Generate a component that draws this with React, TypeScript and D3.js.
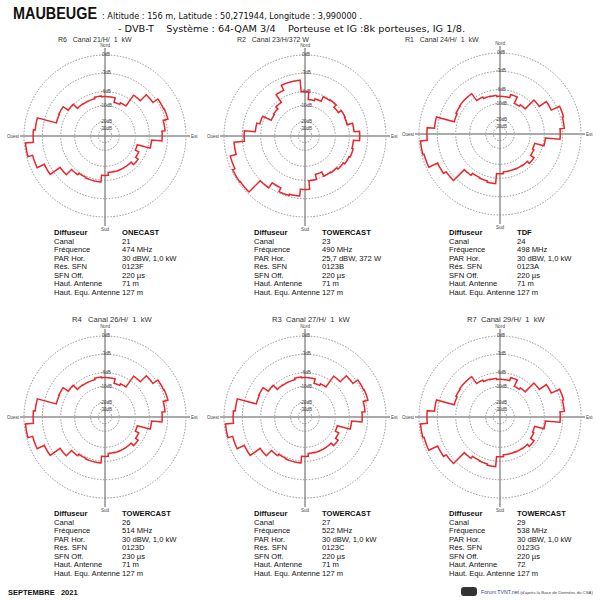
import React from 'react';
import * as d3 from 'd3';

// one entry per transmitter, in drawing order (top row then bottom row)
const emetteurs = ['R6', 'R2', 'R1', 'R4', 'R3', 'R7'];
const titres = ['R6   Canal 21/H/  1  kW', 'R2   Canal 23/H/372 W', 'R1   Canal 24/H/  1  kW',
  'R4   Canal 26/H/  1  kW', 'R3  Canal 27/H/  1  kW', 'R7  Canal 29/H/  1  kW'];
const diffuseurs = ['ONECAST', 'TOWERCAST', 'TDF', 'TOWERCAST', 'TOWERCAST', 'TOWERCAST'];
const canaux = ['21', '23', '24', '26', '27', '29'];
const frequences = ['474 MHz', '490 MHz', '498 MHz', '514 MHz', '522 MHz', '538 MHz'];
const parHor = ['30 dBW, 1,0 kW', '25,7 dBW, 372 W', '30 dBW, 1,0 kW', '30 dBW, 1,0 kW', '30 dBW, 1,0 kW', '30 dBW, 1,0 kW'];
const resSfn = ['0123F', '0123B', '0123A', '0123D', '0123C', '0123G'];
const sfnOff = ['220 µs', '220 µs', '220 µs', '230 µs', '220 µs', '220 µs'];
const hautAntenne = ['71 m', '71 m', '71 m', '71 m', '71 m', '72'];
const hautEqu = ['127 m', '127 m', '127 m', '127 m', '127 m', '127 m'];

const ringLevels = [0, -3, -6, -10, -20, -30];

// attenuation (dB) per 10° sector, starting at Nord, clockwise
const patternR6 = [-7.4, -7.4, -8.7, -8.2, -5.1, -3.7, -2.7, -2.6, -3.4, -3.9, -5.6, -9.1, -8.0, -7.1, -8.1, -8.1, -8.1, -8.2,
  -7.4, -5.7, -5.7, -5.8, -5.5, -4.3, -2.3, -1.0, -0.2, -1.5, -1.8, -5.0, -4.9, -5.9, -7.5, -7.6, -7.6, -7.2];
const patternR2 = [-6.0, -8.2, -7.7, -6.3, -6.1, -7.0, -6.0, -6.2, -5.2, -4.3, -5.3, -5.1, -5.3, -5.6, -5.9, -6.0, -7.3, -5.9,
  -4.5, -3.4, -3.2, -3.9, -2.9, -0.3, -0.2, -0.6, -1.6, -3.3, -5.1, -5.6, -8.0, -7.7, -6.9, -5.0, -4.1, -4.1];
const patternR1 = [-7.9, -7.9, -7.0, -9.0, -8.5, -5.4, -4.0, -2.5, -2.7, -3.4, -5.8, -8.4, -8.0, -6.8, -7.6, -7.7, -7.8, -7.8,
  -7.3, -5.1, -5.3, -5.4, -5.0, -2.5, -2.0, -0.4, -0.2, -1.3, -2.5, -5.5, -5.3, -5.2, -5.2, -7.0, -7.5, -7.6];
const patternR4 = [-7.4, -7.4, -8.7, -8.2, -5.1, -3.7, -2.7, -2.6, -3.4, -3.9, -5.6, -9.1, -8.0, -7.1, -8.1, -8.1, -8.1, -8.2,
  -7.4, -5.7, -5.7, -5.8, -5.5, -4.3, -2.3, -1.0, -0.2, -1.5, -1.8, -5.0, -4.9, -5.9, -7.5, -7.6, -7.6, -7.2];
const patternR3 = [-7.4, -7.4, -8.7, -8.2, -5.1, -3.7, -2.7, -2.6, -3.4, -3.9, -5.6, -9.1, -8.0, -7.1, -8.1, -8.1, -8.1, -8.2,
  -7.4, -5.7, -5.7, -5.8, -5.5, -4.3, -2.3, -1.0, -0.2, -1.5, -1.8, -5.0, -4.9, -5.9, -7.5, -7.6, -7.6, -7.2];
const patternR7 = [-7.9, -7.9, -7.0, -9.0, -8.5, -5.4, -4.0, -2.5, -2.7, -3.4, -5.8, -8.4, -8.0, -6.8, -7.6, -7.7, -7.8, -7.8,
  -7.3, -5.1, -5.3, -5.4, -5.0, -2.5, -2.0, -0.4, -0.2, -1.3, -2.5, -5.5, -5.3, -5.2, -5.2, -7.0, -7.5, -7.6];
const patterns = [patternR6, patternR2, patternR1, patternR4, patternR3, patternR7];

const centres = [[105, 136], [305, 136], [500, 134], [105, 417], [305, 417], [500, 417]];
const rangees = [136, 136, 136, 417, 417, 417];
const titreX = [58, 237, 405, 72, 272, 467];

// not a true log scale on the original, so piecewise
const rScale = d3.scaleLinear()
  .domain([-30, -20, -10, -6, -3, 0])
  .range([6.7, 14.3, 30.3, 44.3, 62.7, 81])
  .clamp(true);

const radial = d3.lineRadial<[number, number]>()
  .angle(d => d[0])
  .radius(d => d[1])
  .curve(d3.curveLinearClosed);

function patternPath(vals: number[]) {
  const pts: [number, number][] = [];
  vals.forEach((v, i) => {
    for (let k = 0; k <= 10; k++) {
      const deg = i * 10 - 5 + k;
      pts.push([deg * Math.PI / 180, rScale(v)]);
    }
  });
  return radial(pts) || '';
}

const sans = 'Liberation Sans, Arial, sans-serif';

function Diagramme({ i }: { i: number }) {
  const [cx, cy] = centres[i];
  const by = rangees[i];
  const lignes = [
    ['Diffuseur', diffuseurs[i]],
    ['Canal', canaux[i]],
    ['Fréquence', frequences[i]],
    ['PAR Hor.', parHor[i]],
    ['Rés. SFN', resSfn[i]],
    ['SFN Off.', sfnOff[i]],
    ['Haut. Antenne', hautAntenne[i]],
    ['Haut. Equ. Antenne', hautEqu[i]],
  ];
  return (
    <g fontFamily={sans}>
      <text x={titreX[i]} y={by - 94 + (i < 3 ? 0 : -1)} fontSize={i < 3 ? 7 : 7.6} fill="#333"
        style={{ whiteSpace: 'pre' }}>{titres[i]}</text>
      <g transform={`translate(${cx},${cy})`}>
        {ringLevels.map(l => (
          <circle key={l} r={rScale(l)} fill="none" stroke="#777" strokeWidth={0.8} strokeDasharray="1.5,1.5" />
        ))}
        <line x1={-85} x2={85} y1={0} y2={0} stroke="#aaa" strokeWidth={2} />
        <line x1={0} x2={0} y1={-88} y2={90} stroke="#777" strokeWidth={1.2} />
        {ringLevels.map(l => (
          <text key={l} x={1} y={-rScale(l) + 1} fontSize={4.5} textAnchor="middle" fill="#444">{l}dB</text>
        ))}
        <text x={0} y={-89} fontSize={4.5} textAnchor="middle" fill="#444">Nord</text>
        <text x={0} y={95} fontSize={4.5} textAnchor="middle" fill="#444">Sud</text>
        <text x={-86} y={1.5} fontSize={4.5} textAnchor="end" fill="#444">Ouest</text>
        <text x={86} y={1.5} fontSize={4.5} fill="#444">Est</text>
        <path d={patternPath(patterns[i])} fill="none" stroke="#e8262b" strokeWidth={1.5} />
      </g>
      {lignes.map((l, k) => (
        <g key={k} fontSize={7.6} fill="#111">
          <text x={cx - 51} y={by + 99 + k * 8.5} fontWeight={k === 0 ? 'bold' : 'normal'}>{l[0]}</text>
          <text x={cx + 17} y={by + 99 + k * 8.5} fontWeight={k === 0 ? 'bold' : 'normal'}>{l[1]}</text>
        </g>
      ))}
    </g>
  );
}

export default function App() {
  return (
    <svg width={600} height={600} style={{ position: 'absolute', left: 0, top: 0, background: '#fff' }}>
      <rect width={600} height={600} fill="#fff" />
      <text x={13} y={19} fontFamily={sans} fontWeight="bold" fontSize={16} textLength={84}
        lengthAdjust="spacingAndGlyphs" fill="#111">MAUBEUGE</text>
      <text x={102} y={19} fontFamily="DejaVu Sans, sans-serif" fontSize={8} textLength={260}
        lengthAdjust="spacingAndGlyphs" fill="#111">: Altitude : 156 m, Latitude : 50,271944, Longitude : 3,990000 .</text>
      <text x={118} y={32} fontFamily="DejaVu Sans, sans-serif" fontSize={8.5} textLength={347}
        lengthAdjust="spacingAndGlyphs" fill="#111" style={{ whiteSpace: 'pre' }}>- DVB-T    Système : 64-QAM 3/4    Porteuse et IG :8k porteuses, IG 1/8.</text>
      {emetteurs.map((e, i) => <Diagramme key={e} i={i} />)}
      <text x={8} y={595} fontFamily={sans} fontWeight="bold" fontSize={7.5} fill="#111"
        style={{ whiteSpace: 'pre' }}>SEPTEMBRE   2021</text>
      <rect x={461} y={587} width={16} height={9} rx={3} fill="#333" />
      <text x={481} y={593.5} fontFamily={sans} fontSize={5.2} fill="#234">
        <tspan fill="#2a3f8f">Forum TVNT.net</tspan>
        <tspan fontSize={4.3} fill="#444"> (d'après la Base de Données du CSA)</tspan>
      </text>
    </svg>
  );
}
